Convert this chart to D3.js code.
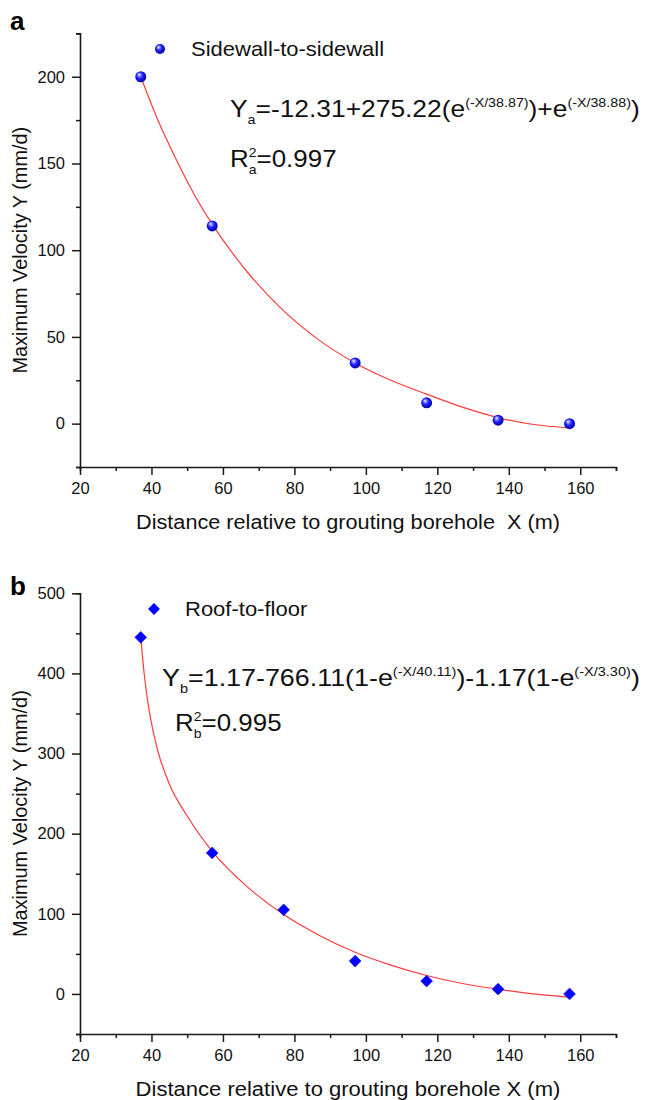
<!DOCTYPE html>
<html>
<head>
<meta charset="utf-8">
<script src="https://cdn.jsdelivr.net/npm/d3@7"></script>
<style>
  body { margin: 0; background: #fff; }
  svg { display: block; font-family: "Liberation Sans", Arial, sans-serif; }
</style>
</head>
<body>
<svg id="chart" width="646" height="1100"></svg>
<script>
// x axis ticks (shared)
const xMajor = [20, 40, 60, 80, 100, 120, 140, 160];
const xMinor = [30, 50, 70, 90, 110, 130, 150, 170];

// panel a: sidewall-to-sidewall
const aX = [37, 57, 97, 117, 137, 157];
const aY = [200, 114, 35, 12, 2, 0];
const aFitX = [37, 42, 47, 52, 57, 67, 77, 87, 97, 107, 117, 127, 137, 147, 157];
const aFitY = [200, 174, 152, 132, 115, 87, 65, 48, 35, 25, 17, 9.5, 3.5, -0.5, -2.5];
const aYMajor = [0, 50, 100, 150, 200];
const aYMinor = [-25, 25, 75, 125, 175, 225];

// panel b: roof-to-floor
const bX = [37, 57, 77, 97, 117, 137, 157];
const bY = [445, 176, 105, 41, 16, 6, 0];
const bFitX = [37, 38, 39, 40, 42, 45, 50, 57, 67, 77, 87, 97, 107, 117, 127, 137, 147, 157];
const bFitY = [445, 398, 364, 338, 300, 262, 222, 178, 133, 99, 73, 52, 36, 23, 13, 6, 0, -4];
const bYMajor = [0, 100, 200, 300, 400, 500];
const bYMinor = [-50, 50, 150, 250, 350, 450];

const svg = d3.select("#chart");
const AXIS_COL = "#1a1a1a";
const FIT_COL = "#ff3b3b";

// sphere shading for the top markers
const defs = svg.append("defs");
const grad = defs.append("radialGradient").attr("id", "sphere")
    .attr("cx", "45%").attr("cy", "45%").attr("r", "60%")
    .attr("fx", "35%").attr("fy", "30%");
grad.append("stop").attr("offset", "0%").attr("stop-color", "#ffffff");
grad.append("stop").attr("offset", "18%").attr("stop-color", "#9a9aff");
grad.append("stop").attr("offset", "50%").attr("stop-color", "#1c1cff");
grad.append("stop").attr("offset", "100%").attr("stop-color", "#000090");

// stretch a text horizontally so it spans w pixels (keeps its anchor point)
function fitWidth(text, w, cx) {
    const bb = text.node().getBBox();
    const x0 = cx !== undefined ? cx : bb.x;
    const k = w / bb.width;
    const prev = text.attr("transform") || "";
    text.attr("transform", `translate(${x0},0) scale(${k},1) translate(${-x0},0) ${prev}`);
}

function drawPanel(o) {
    const x = d3.scaleLinear().domain([20, 170]).range([80, 616]);
    const y = d3.scaleLinear().domain(o.yDomain).range(o.yRange);
    const g = svg.append("g");

    // axes: minor ticks first, then labelled major ticks
    const xa = g.append("g").attr("transform", `translate(0,${o.yRange[0]})`);
    xa.call(d3.axisBottom(x).tickValues(xMinor).tickSize(4).tickFormat(""));
    xa.append("g").attr("class", "major").call(d3.axisBottom(x).tickValues(xMajor).tickSize(8).tickPadding(7));
    const ya = g.append("g").attr("transform", "translate(80,0)");
    ya.call(d3.axisLeft(y).tickValues(o.yMinor).tickSize(4).tickFormat(""));
    ya.append("g").attr("class", "major").call(d3.axisLeft(y).tickValues(o.yMajor).tickSize(8).tickPadding(7));

    g.selectAll(".major .domain").remove();
    g.selectAll(".domain").attr("stroke", AXIS_COL).attr("stroke-width", 1.6);
    g.selectAll(".tick line").attr("stroke", AXIS_COL).attr("stroke-width", 1.5);
    g.selectAll(".tick text").attr("font-size", 16.5).attr("fill", "#111")
        .attr("font-family", "'Liberation Sans', Arial, sans-serif");

    // fitted curve
    const line = d3.line().x(d => x(d[0])).y(d => y(d[1])).curve(d3.curveMonotoneX);
    g.append("path").datum(d3.zip(o.fitX, o.fitY))
        .attr("d", line).attr("fill", "none")
        .attr("stroke", FIT_COL).attr("stroke-width", 1.2);

    // markers
    const pts = d3.zip(o.px, o.py);
    if (o.marker === "sphere") {
        g.selectAll("circle.pt").data(pts).join("circle").attr("class", "pt")
            .attr("cx", d => x(d[0])).attr("cy", d => y(d[1])).attr("r", 5.5)
            .attr("fill", "url(#sphere)");
    } else {
        const dia = d3.symbol().type(d3.symbolSquare).size(70);
        g.selectAll("path.pt").data(pts).join("path").attr("class", "pt")
            .attr("d", dia)
            .attr("transform", d => `translate(${x(d[0])},${y(d[1])}) rotate(45)`)
            .attr("fill", "#0000ff").attr("stroke", "#1010e0").attr("stroke-width", 0.6);
    }

    // legend
    if (o.marker === "sphere") {
        g.append("circle").attr("cx", o.legX).attr("cy", o.legY).attr("r", 5)
            .attr("fill", "url(#sphere)");
    } else {
        g.append("path").attr("d", d3.symbol().type(d3.symbolSquare).size(70))
            .attr("transform", `translate(${o.legX},${o.legY}) rotate(45)`)
            .attr("fill", "#0000ff");
    }
    const leg = g.append("text").attr("x", o.legX + 31).attr("y", o.legY + 7)
        .attr("font-size", 20).attr("fill", "#111").text(o.legend);
    fitWidth(leg, leg.node().getBBox().width * 1.1);

    // panel letter
    g.append("text").attr("x", 10).attr("y", o.letterY)
        .attr("font-size", 26).attr("font-weight", "bold").text(o.letter);

    // axis titles
    const cy = (o.yRange[0] + o.yRange[1]) / 2;
    const yt = g.append("text")
        .attr("transform", `translate(27,${cy}) rotate(-90)`)
        .attr("text-anchor", "middle").attr("font-size", 19.5).attr("fill", "#111")
        .text("Maximum Velocity Y (mm/d)");
    const ytw = yt.node().getBBox().width;
    yt.attr("transform", `translate(27,${cy}) rotate(-90) scale(${247 / ytw},1)`);

    const xt = g.append("text").attr("x", 348).attr("y", o.yRange[0] + 62)
        .attr("text-anchor", "middle").attr("font-size", 19.5).attr("fill", "#111")
        .attr("xml:space", "preserve")
        .text(o.xTitle);
    fitWidth(xt, o.xTitleW, 348);

    // equation
    const eq = g.append("text").attr("x", o.eqX).attr("y", o.eqY)
        .attr("font-size", 24).attr("fill", "#111");
    o.eqParts.forEach(p => {
        const t = eq.append("tspan").text(p.t);
        if (p.sub) t.attr("font-size", 13).attr("dy", 7);
        else if (p.sup) t.attr("font-size", 13).attr("dy", -10);
        else if (p.dy) t.attr("dy", p.dy);
    });
    fitWidth(eq, o.eqW);

    const r2 = g.append("text").attr("x", o.r2X).attr("y", o.r2Y)
        .attr("font-size", 24).attr("fill", "#111");
    r2.append("tspan").text("R");
    r2.append("tspan").attr("font-size", 13).attr("dy", -10).text("2");
    r2.append("tspan").attr("font-size", 13).attr("dx", -7.2).attr("dy", 17).text(o.sub);
    r2.append("tspan").attr("dy", -7).text("=" + o.r2);
    fitWidth(r2, r2.node().getBBox().width * 1.08);
}

drawPanel({
    letter: "a", letterY: 30,
    yDomain: [-25, 225], yRange: [467, 33.4],
    yMajor: aYMajor, yMinor: aYMinor,
    px: aX, py: aY, fitX: aFitX, fitY: aFitY, marker: "sphere",
    legX: 160, legY: 49, legend: "Sidewall-to-sidewall",
    xTitle: "Distance relative to grouting borehole  X (m)", xTitleW: 424,
    eqX: 230, eqY: 117, eqW: 410,
    eqParts: [
        { t: "Y" }, { t: "a", sub: true }, { t: "=-12.31+275.22(e", dy: -7 },
        { t: "(-X/38.87)", sup: true }, { t: ")+e", dy: 10 },
        { t: "(-X/38.88)", sup: true }, { t: ")", dy: 10 }
    ],
    r2X: 230, r2Y: 167, sub: "a", r2: "0.997"
});

drawPanel({
    letter: "b", letterY: 595,
    yDomain: [-50, 500], yRange: [1034, 593.3],
    yMajor: bYMajor, yMinor: bYMinor,
    px: bX, py: bY, fitX: bFitX, fitY: bFitY, marker: "diamond",
    legX: 154, legY: 609, legend: "Roof-to-floor",
    xTitle: "Distance relative to grouting borehole X (m)", xTitleW: 425,
    eqX: 162, eqY: 686, eqW: 478,
    eqParts: [
        { t: "Y" }, { t: "b", sub: true }, { t: "=1.17-766.11(1-e", dy: -7 },
        { t: "(-X/40.11)", sup: true }, { t: ")-1.17(1-e", dy: 10 },
        { t: "(-X/3.30)", sup: true }, { t: ")", dy: 10 }
    ],
    r2X: 175, r2Y: 731, sub: "b", r2: "0.995"
});
</script>
</body>
</html>
